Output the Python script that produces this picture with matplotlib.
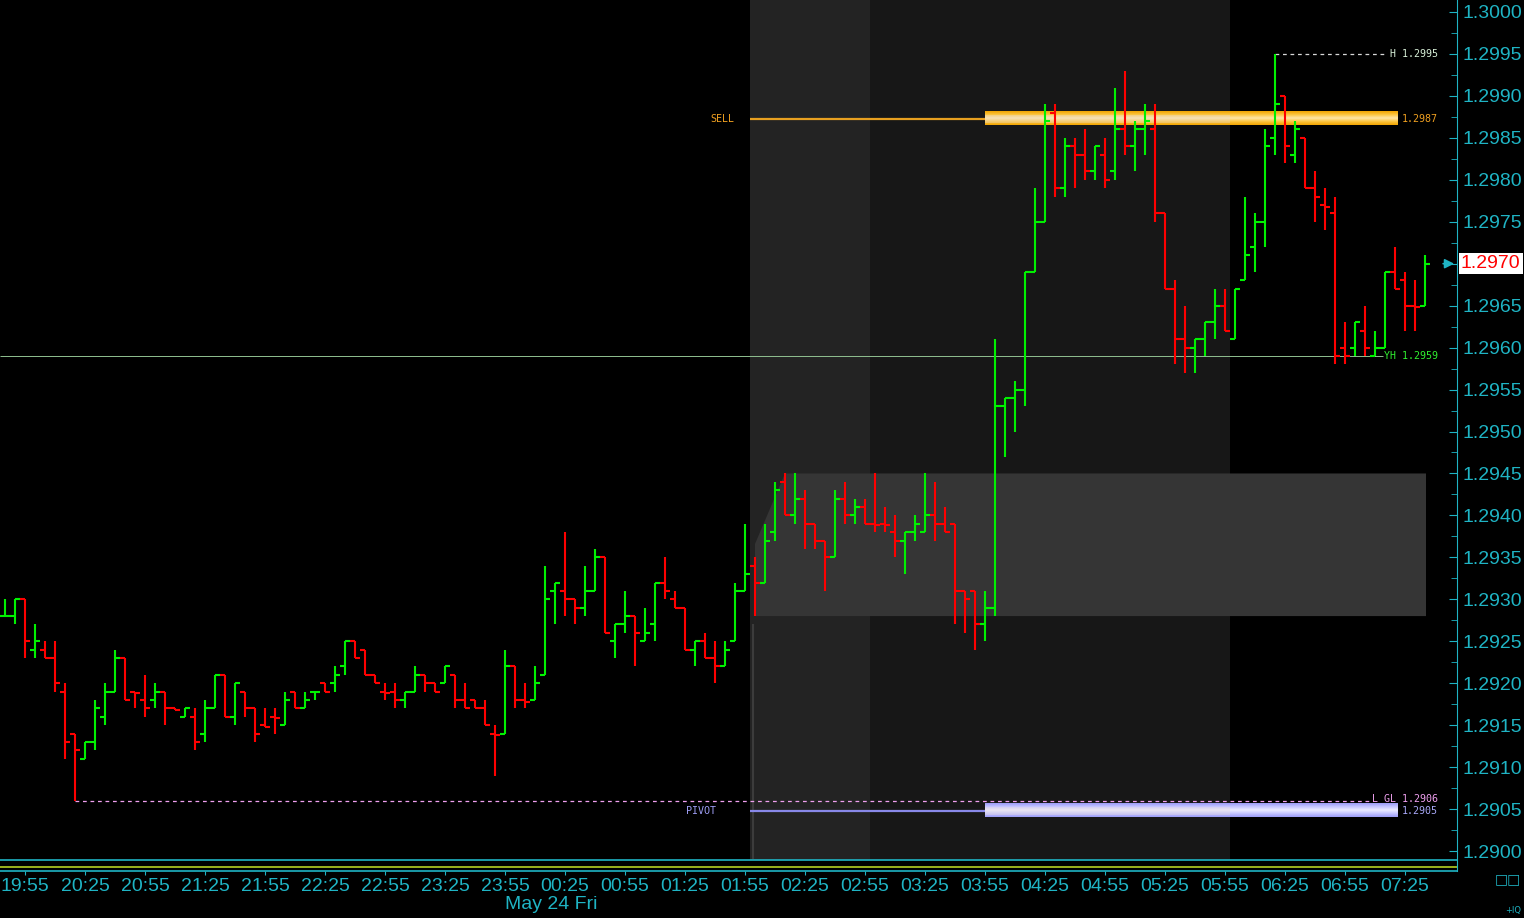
import numpy as np
import pandas as pd
import matplotlib
matplotlib.use('Agg')
import matplotlib.pyplot as plt
import matplotlib.transforms as mtransforms
from matplotlib.patches import Polygon, Rectangle
from matplotlib.colors import LinearSegmentedColormap
from matplotlib.ticker import MultipleLocator, FormatStrFormatter

# ---------------- data (5 minute bars) ----------------
times = pd.date_range('2013-05-23 19:45', periods=143, freq='5min')

opens = [
    1.2928, 1.2928, 1.2930, 1.2924, 1.2924, 1.2923, 1.2919, 1.2914, 1.2911, 1.2913,
    1.2916, 1.2919, 1.2923, 1.2919, 1.2918, 1.2918, 1.2919, 1.2917, 1.2916, 1.2916,
    1.2914, 1.2917, 1.2921, 1.2916, 1.2919, 1.2917, 1.2915, 1.2916, 1.2915, 1.2919,
    1.2917, 1.2919, 1.2920, 1.2920, 1.2922, 1.2925, 1.2924, 1.2921, 1.2919, 1.2919,
    1.2918, 1.2919, 1.2921, 1.2920, 1.2920, 1.2921, 1.2918, 1.2918, 1.2917, 1.2914,
    1.2914, 1.2922, 1.2918, 1.2918, 1.2921, 1.2931, 1.2931, 1.2930, 1.2929, 1.2931,
    1.2935, 1.2925, 1.2927, 1.2928, 1.2925, 1.2927, 1.2932, 1.2930, 1.2929, 1.2924,
    1.2925, 1.2923, 1.2922, 1.2925, 1.2931, 1.2934, 1.2932, 1.2938, 1.2944, 1.2940,
    1.2942, 1.2939, 1.2937, 1.2935, 1.2942, 1.2940, 1.2941, 1.2939, 1.2939, 1.2938,
    1.2937, 1.2938, 1.2938, 1.2940, 1.2939, 1.2939, 1.2931, 1.2931, 1.2927, 1.2929,
    1.2953, 1.2954, 1.2955, 1.2969, 1.2975, 1.2988, 1.2979, 1.2984, 1.2983, 1.2981,
    1.2983, 1.2981, 1.2986, 1.2984, 1.2986, 1.2986, 1.2976, 1.2967, 1.2961, 1.2960,
    1.2961, 1.2963, 1.2965, 1.2961, 1.2968, 1.2972, 1.2975, 1.2985, 1.2990, 1.2983,
    1.2985, 1.2979, 1.2977, 1.2976, 1.2960, 1.2960, 1.2962, 1.2959, 1.2960, 1.2969,
    1.2968, 1.2965, 1.2965]
highs = [
    1.2930, 1.2930, 1.2930, 1.2927, 1.2925, 1.2925, 1.2920, 1.2914, 1.2913, 1.2918,
    1.2920, 1.2924, 1.2923, 1.2919, 1.2921, 1.2920, 1.2919, 1.2917, 1.2917, 1.2917,
    1.2918, 1.2921, 1.2921, 1.2920, 1.2919, 1.2917, 1.2917, 1.2917, 1.2919, 1.2919,
    1.2919, 1.2919, 1.2920, 1.2922, 1.2925, 1.2925, 1.2924, 1.2921, 1.2920, 1.2920,
    1.2919, 1.2922, 1.2921, 1.2920, 1.2922, 1.2921, 1.2920, 1.2918, 1.2918, 1.2915,
    1.2924, 1.2922, 1.2920, 1.2922, 1.2934, 1.2932, 1.2938, 1.2930, 1.2934, 1.2936,
    1.2935, 1.2927, 1.2931, 1.2928, 1.2929, 1.2932, 1.2935, 1.2931, 1.2929, 1.2925,
    1.2926, 1.2925, 1.2925, 1.2932, 1.2939, 1.2935, 1.2939, 1.2944, 1.2945, 1.2945,
    1.2943, 1.2939, 1.2937, 1.2943, 1.2944, 1.2942, 1.2942, 1.2945, 1.2941, 1.2940,
    1.2938, 1.2940, 1.2945, 1.2944, 1.2941, 1.2939, 1.2931, 1.2931, 1.2931, 1.2961,
    1.2954, 1.2956, 1.2969, 1.2979, 1.2989, 1.2989, 1.2985, 1.2985, 1.2986, 1.2984,
    1.2985, 1.2991, 1.2993, 1.2987, 1.2989, 1.2989, 1.2976, 1.2968, 1.2965, 1.2961,
    1.2963, 1.2967, 1.2967, 1.2967, 1.2978, 1.2976, 1.2986, 1.2995, 1.2990, 1.2987,
    1.2985, 1.2981, 1.2979, 1.2978, 1.2963, 1.2963, 1.2965, 1.2962, 1.2969, 1.2972,
    1.2969, 1.2968, 1.2971]
lows = [
    1.2928, 1.2927, 1.2923, 1.2923, 1.2923, 1.2919, 1.2911, 1.2906, 1.2911, 1.2912,
    1.2915, 1.2919, 1.2918, 1.2917, 1.2916, 1.2917, 1.2915, 1.29168, 1.2916, 1.2912,
    1.2913, 1.2917, 1.2916, 1.2915, 1.2916, 1.2913, 1.29148, 1.2914, 1.2915, 1.2917,
    1.2917, 1.2918, 1.2919, 1.2919, 1.2921, 1.2923, 1.2921, 1.2920, 1.2918, 1.2917,
    1.2917, 1.2919, 1.2919, 1.2919, 1.2920, 1.2917, 1.2917, 1.2917, 1.2915, 1.2909,
    1.2914, 1.2917, 1.2917, 1.2918, 1.2921, 1.2927, 1.2928, 1.2927, 1.2928, 1.2931,
    1.2926, 1.2923, 1.2926, 1.2922, 1.2925, 1.2925, 1.2930, 1.2929, 1.2924, 1.2922,
    1.2923, 1.2920, 1.2922, 1.2925, 1.2931, 1.2928, 1.2932, 1.2937, 1.2940, 1.2939,
    1.2936, 1.2936, 1.2931, 1.2935, 1.2939, 1.2939, 1.2939, 1.2938, 1.2938, 1.2935,
    1.2933, 1.2937, 1.2938, 1.2937, 1.2938, 1.2927, 1.2926, 1.2924, 1.2925, 1.2928,
    1.2947, 1.2950, 1.2953, 1.2969, 1.2975, 1.2978, 1.2978, 1.2979, 1.2980, 1.2980,
    1.2979, 1.2980, 1.2983, 1.2981, 1.2983, 1.2975, 1.2967, 1.2958, 1.2957, 1.2957,
    1.2959, 1.2961, 1.2962, 1.2961, 1.2968, 1.2969, 1.2972, 1.2983, 1.2982, 1.2982,
    1.2979, 1.2975, 1.2974, 1.2958, 1.2958, 1.2959, 1.2959, 1.2959, 1.2960, 1.2967,
    1.2962, 1.2962, 1.2965]
closes = [
    1.2928, 1.2930, 1.2925, 1.2925, 1.2923, 1.2920, 1.2913, 1.2912, 1.2913, 1.2917,
    1.2919, 1.2923, 1.2918, 1.29188, 1.2917, 1.2919, 1.2917, 1.29168, 1.2917, 1.2913,
    1.2917, 1.2921, 1.2916, 1.2920, 1.2917, 1.2914, 1.29148, 1.29158, 1.2918, 1.2917,
    1.2918, 1.2919, 1.2919, 1.2921, 1.2925, 1.2923, 1.2921, 1.2920, 1.29188, 1.2918,
    1.2919, 1.2921, 1.2920, 1.2919, 1.2922, 1.2918, 1.2917, 1.2917, 1.2915, 1.29138,
    1.2922, 1.2918, 1.29178, 1.2920, 1.2930, 1.2932, 1.2930, 1.2929, 1.2931, 1.2935,
    1.2926, 1.2927, 1.2928, 1.2926, 1.2926, 1.2932, 1.2931, 1.2929, 1.2924, 1.2925,
    1.2923, 1.2922, 1.2924, 1.2931, 1.2933, 1.2932, 1.2937, 1.2943, 1.2940, 1.2942,
    1.2939, 1.2937, 1.2935, 1.2942, 1.2940, 1.2941, 1.2939, 1.29388, 1.29388, 1.2937,
    1.2938, 1.2939, 1.2940, 1.2939, 1.2938, 1.2931, 1.2930, 1.2927, 1.2929, 1.2953,
    1.2954, 1.2955, 1.2969, 1.2975, 1.2987, 1.2979, 1.2984, 1.2983, 1.2981, 1.2984,
    1.2980, 1.2986, 1.2984, 1.2986, 1.2987, 1.2976, 1.2967, 1.2961, 1.2960, 1.2961,
    1.2963, 1.2965, 1.2962, 1.2967, 1.2971, 1.2975, 1.2984, 1.2989, 1.2984, 1.2986,
    1.2979, 1.2978, 1.29768, 1.2959, 1.2959, 1.2963, 1.2960, 1.2960, 1.2969, 1.2967,
    1.2965, 1.29648, 1.2970]

tick_labels = ['19:55', '20:25', '20:55', '21:25', '21:55', '22:25', '22:55', '23:25',
               '23:55', '00:25', '00:55', '01:25', '01:55', '02:25', '02:55', '03:25',
               '03:55', '04:25', '04:55', '05:25', '05:55', '06:25', '06:55', '07:25']
date_label = 'May 24 Fri'

sell_level = 1.2987
pivot_level = 1.2905
day_low = 1.2906      # GL
day_high = 1.2995     # H
yest_high = 1.2959    # YH
va_high = 1.2945
va_low = 1.2928
last_price = 1.2970

# session boundaries (bar times)
light_start, dark_start, dark_end = '02:00', '03:00', '06:00'
band_from = '03:55'

# ---------------- style ----------------
CYAN = '#1fb4c4'
GREEN = '#00f000'
RED = '#ff0000'
SMALL = dict(family='DejaVu Sans Mono', fontsize=7.2)
AXFONT = ['Liberation Sans Narrow', 'Liberation Sans', 'DejaVu Sans']
AXSIZE = 14

hm = list(times.strftime('%H:%M'))
idx = np.arange(len(times))
n = len(times)
o, h, l, c = map(np.array, (opens, highs, lows, closes))
up = c >= o
col = np.where(up, GREEN, RED)

W, H = 1524, 918
fig = plt.figure(figsize=(W / 100, H / 100), dpi=100, facecolor='black')
ax = fig.add_axes([0, 1 - 860 / H, 1457 / W, 860 / H])
strip = fig.add_axes([0, 1 - 871 / H, 1457 / W, 10 / H], sharex=ax)
for a in (ax, strip):
    a.set_facecolor('black')

# sessions
s0 = hm.index(light_start) - 0.5
s1 = hm.index(dark_start) - 0.5
s2 = hm.index(dark_end) - 0.5
ax.axvspan(s0, s1, color='#232323', zorder=0, lw=0)
ax.axvspan(s1, s2, color='#171717', zorder=0, lw=0)

# value area box
va0 = s0 + 0.5
va1 = n - 0.9
ax.add_patch(Polygon([(va0, va_low), (va0, (va_low + va_high) / 2 + 0.00001),
                      (va0 + 3, va_high), (va1, va_high), (va1, va_low)],
                     closed=True, fc='#353535', ec='none', zorder=1))
ax.vlines(s0 + 0.25, 1.2899, va_low - 0.0001, color='#3c3c3c', lw=1.5, zorder=1)


def band(x0, x1, level, edge, mid, center, half=0.00008):
    cmap = LinearSegmentedColormap.from_list('band', [edge, mid, center, mid, edge])
    grad = np.linspace(0, 1, 64).reshape(-1, 1)
    ax.imshow(grad, cmap=cmap, aspect='auto', origin='lower', interpolation='bilinear',
              extent=(x0, x1, level - half, level + half), zorder=2)
    # the part over the session shading looks washed out
    ax.add_patch(Rectangle((x0, level - half * 0.6), s2 - x0, 1.2 * half,
                           fc='#e8dcd8', alpha=0.35, ec='none', zorder=2.5))


b0 = hm.index(band_from)
b1 = n - 3.7
band(b0, b1, sell_level + 0.00003, '#f2a400', '#fcc540', '#ffe6a8')
band(b0, b1, pivot_level - 0.00002, '#9c9cf8', '#c4c4ff', '#ececff')
ax.hlines(sell_level + 0.00003, s0, b0, color='#e8a020', lw=1.6, zorder=3)
ax.hlines(pivot_level - 0.00002, s0, b0, color='#8888e8', lw=1.6, zorder=3)
ax.text(s0 - 1.6, sell_level + 0.00003, 'SELL', color='#f0a020', ha='right', va='center', **SMALL)
ax.text(s0 - 3.4, pivot_level - 0.00002, 'PIVOT', color='#a0a0f8', ha='right', va='center', **SMALL)
ax.text(n + 0.3, sell_level + 0.00003, '1.2987', color='#f0a020', ha='right', va='center', **SMALL)
ax.text(n + 0.3, pivot_level - 0.00002, '1.2905', color='#a8a8f8', ha='right', va='center', **SMALL)

# reference lines
lo_i = int(np.argmin(l))
hi_i = int(np.argmax(h))
ax.hlines(day_low, lo_i, n - 6.5, color='#f0a0f0', lw=0.9, ls=(0, (3, 3)), zorder=3)
ax.text(n + 0.3, day_low + 0.00002, 'L GL 1.2906', color='#f0a0f0', ha='right', va='center', **SMALL)
ax.hlines(day_high, hi_i, n - 5, color='#d8d8d8', lw=0.9, ls=(0, (3, 3)), zorder=3)
ax.text(n + 0.3, day_high, 'H 1.2995', color='#d8f0d8', ha='right', va='center', **SMALL)
ax.hlines(yest_high, -0.5, n - 5.2, color='#90c090', lw=0.7, zorder=3)
ax.text(n + 0.3, yest_high, 'YH 1.2959', color='#30f030', ha='right', va='center', **SMALL)

# OHLC bars
ax.vlines(idx, l, h, colors=col, lw=1.5, zorder=4)
ax.hlines(o, idx - 0.5, idx, colors=col, lw=1.5, zorder=4)
ax.hlines(c, idx, idx + 0.5, colors=col, lw=1.5, zorder=4)

# axes
ax.set_xlim(-0.5, 145.2)
ax.set_ylim(1.289893, 1.300143)
ax.yaxis.tick_right()
ax.yaxis.set_major_locator(MultipleLocator(0.0005))
ax.yaxis.set_minor_locator(MultipleLocator(0.00025))
ax.yaxis.set_major_formatter(FormatStrFormatter('%.4f'))
ax.tick_params(axis='y', which='both', direction='in', colors=CYAN, labelsize=AXSIZE, pad=4)
ax.tick_params(axis='y', which='major', length=6)
ax.tick_params(axis='y', which='minor', length=4)
ax.tick_params(axis='x', which='both', bottom=False, labelbottom=False)
for lab in ax.get_yticklabels():
    lab.set_family(AXFONT)
for s in ('top', 'left'):
    ax.spines[s].set_visible(False)
ax.spines['right'].set_color(CYAN)
ax.spines['bottom'].set_color(CYAN)
ax.spines['bottom'].set_linewidth(1.2)
ax.spines['bottom'].set_zorder(5)

# last price marker
tr = mtransforms.blended_transform_factory(ax.transAxes, ax.transData)
ax.annotate('', xy=(1.0, last_price), xycoords=tr, xytext=(-12, 0), textcoords='offset points',
            arrowprops=dict(arrowstyle='-|>', color=CYAN, lw=1.2, mutation_scale=14), annotation_clip=False)
ax.text(1.0 + 4 / 1457, last_price, '%.4f' % last_price, transform=tr, ha='left', va='center',
        color=RED, fontsize=AXSIZE, family=AXFONT, zorder=10, clip_on=False,
        bbox=dict(facecolor='white', edgecolor='none', pad=1.5))

# bottom strip with time axis
strip.axhline(0.45, color='#a8c020', lw=1.3)
strip.set_ylim(0, 1)
strip.set_yticks([])
for s in ('top', 'left'):
    strip.spines[s].set_visible(False)
strip.spines['right'].set_color(CYAN)
strip.spines['bottom'].set_color(CYAN)
strip.spines['bottom'].set_linewidth(1.2)
strip.set_xticks([hm.index(t) for t in tick_labels])
strip.set_xticklabels(tick_labels, family=AXFONT)
strip.tick_params(axis='x', colors=CYAN, labelsize=AXSIZE, length=3, pad=2, direction='out')
strip.text(hm.index('00:00') - 1, -2.5, date_label, color=CYAN, fontsize=AXSIZE, family=AXFONT,
           ha='left', va='top', transform=strip.transData, clip_on=False)

fig.text(1495 / W, 1 - 879 / H, '\u25a1\u25a1', color=CYAN, fontsize=10, va='center', ha='left')
fig.text(1521 / W, 1 - 910 / H, '+IQ', color=CYAN, fontsize=6, va='center', ha='right')

fig.savefig('out.png', dpi=100, facecolor='black')
